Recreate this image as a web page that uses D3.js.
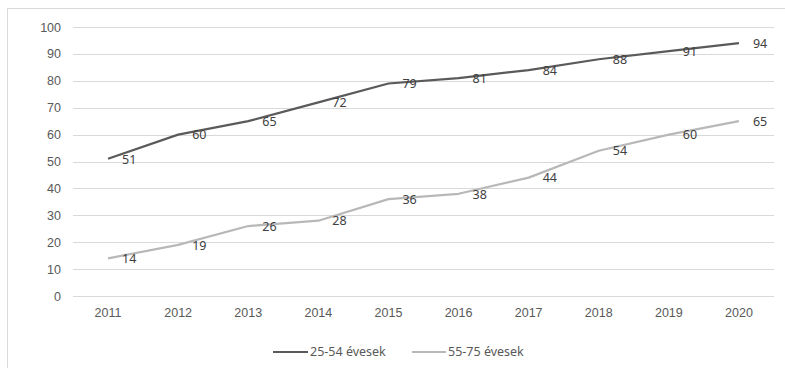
<!DOCTYPE html>
<html>
<head>
<meta charset="utf-8">
<script src="https://cdn.jsdelivr.net/npm/d3@7"></script>
<style>
  html, body { margin: 0; padding: 0; background: #fff; }
  svg { display: block; font-family: "Noto Sans", "DejaVu Sans", sans-serif; }
</style>
</head>
<body>
<svg id="chart" width="785" height="368"></svg>
<script>
// Years on the category axis
const years = ["2011", "2012", "2013", "2014", "2015", "2016", "2017", "2018", "2019", "2020"];
// Share by age group (%)
const age25to54 = [51, 60, 65, 72, 79, 81, 84, 88, 91, 94];
const age55to75 = [14, 19, 26, 28, 36, 38, 44, 54, 60, 65];
const seriesNames = ["25-54 évesek", "55-75 évesek"];
const yTicks = [0, 10, 20, 30, 40, 50, 60, 70, 80, 90, 100];

const series = [
  { name: seriesNames[0], values: age25to54, color: "#5a5a5a" },
  { name: seriesNames[1], values: age55to75, color: "#b8b8b8" }
];

const W = 785, H = 368;
const margin = { left: 73, right: 11, top: 27, bottom: 72 };
const svg = d3.select("#chart");

// chart area frame
svg.append("rect")
  .attr("x", 7.5).attr("y", 8.5)
  .attr("width", W - 7).attr("height", H)
  .attr("fill", "#fff").attr("stroke", "#d9d9d9").attr("stroke-width", 1);

const x = d3.scaleBand().domain(years)
  .range([margin.left, W - margin.right]);
const y = d3.scaleLinear().domain([0, 100])
  .range([H - margin.bottom, margin.top]);

// gridlines
svg.append("g").selectAll("line").data(yTicks).join("line")
  .attr("x1", margin.left).attr("x2", W - margin.right)
  .attr("y1", d => Math.round(y(d)) + 0.5).attr("y2", d => Math.round(y(d)) + 0.5)
  .attr("stroke", "#d9d9d9").attr("stroke-width", 1.2);

const fs = "12.5px";

// y axis labels
const yAxis = d3.axisLeft(y).tickValues(yTicks).tickSize(0).tickPadding(0);
svg.append("g").attr("transform", `translate(${margin.left - 12},0)`)
  .call(yAxis)
  .call(g => g.select(".domain").remove())
  .call(g => g.selectAll("text").attr("fill", "#595959").style("font-size", fs).style("font-family", "inherit"));

// x axis labels
const xAxis = d3.axisBottom(x).tickSize(0).tickPadding(0);
svg.append("g").attr("transform", `translate(0,${H - margin.bottom + 12})`)
  .call(xAxis)
  .call(g => g.select(".domain").remove())
  .call(g => g.selectAll("text").attr("fill", "#595959").style("font-size", fs).style("font-family", "inherit"));

const cx = d => x(d) + x.bandwidth() / 2;
const line = d3.line().x((d, i) => cx(years[i])).y(d => y(d));

series.forEach(s => {
  svg.append("path").datum(s.values)
    .attr("d", line)
    .attr("fill", "none")
    .attr("stroke", s.color)
    .attr("stroke-width", 2.2)
    .attr("stroke-linejoin", "round");

  svg.append("g").selectAll("text").data(s.values).join("text")
    .attr("x", (d, i) => cx(years[i]) + 14)
    .attr("y", d => y(d))
    .attr("dy", "0.38em")
    .attr("fill", "#404040")
    .style("font-size", fs)
    .text(d => d);
});

// legend
const legend = svg.append("g");
const legendItems = [
  { x: 273, len: 35 },
  { x: 412, len: 34 }
];
series.forEach((s, i) => {
  const it = legendItems[i];
  legend.append("line")
    .attr("x1", it.x).attr("x2", it.x + it.len)
    .attr("y1", 352).attr("y2", 352)
    .attr("stroke", s.color).attr("stroke-width", 2.2);
  legend.append("text")
    .attr("x", it.x + it.len + 2).attr("y", 352).attr("dy", "0.35em")
    .attr("fill", "#595959").style("font-size", fs)
    .text(s.name);
});
</script>
</body>
</html>
